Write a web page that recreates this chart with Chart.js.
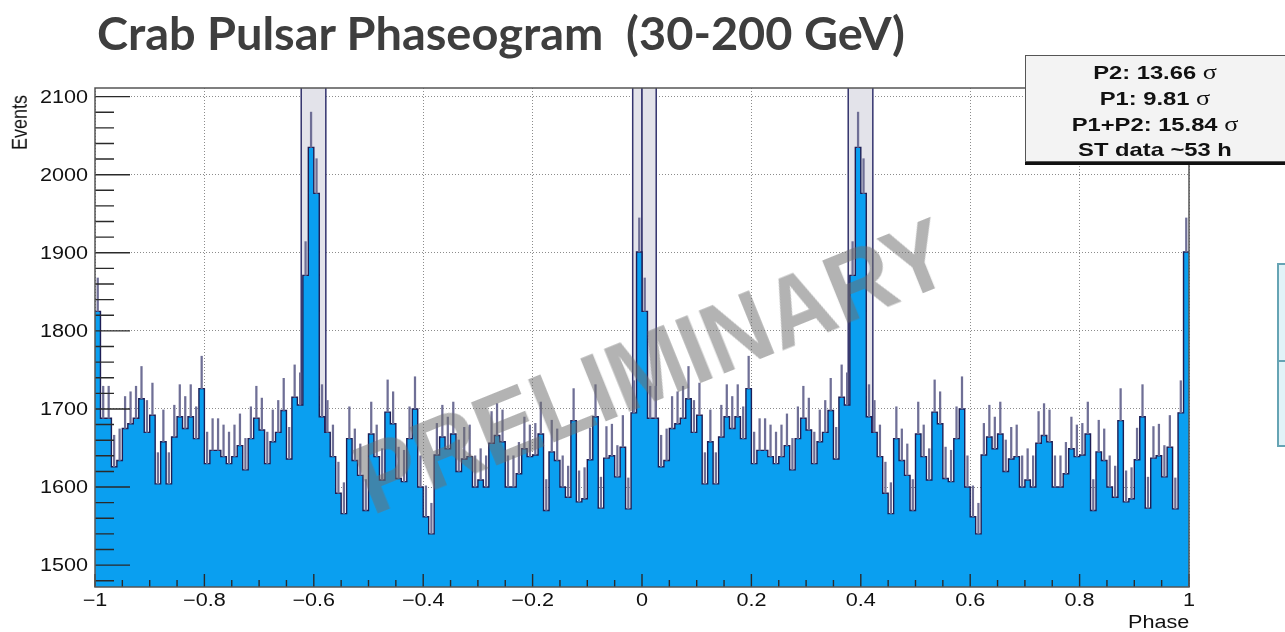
<!DOCTYPE html>
<html>
<head>
<meta charset="utf-8">
<title>Crab Pulsar Phaseogram</title>
<script src="https://cdn.jsdelivr.net/npm/chart.js@4.4.1/dist/chart.umd.min.js"></script>
<style>
  html, body { margin: 0; padding: 0; background: #fff; }
  #wrap { position: relative; width: 1285px; height: 632px; overflow: hidden; background: #fff; }
  #plot { position: absolute; left: 0; top: 0; }
  .title {
    position: absolute; left: 97px; top: 11px;
    font-family: Lato, "Open Sans", sans-serif; font-weight: 700; font-size: 45px;
    color: #3e3e3e; white-space: pre; transform-origin: 0 0; line-height: 1;
  }
  .watermark {
    position: absolute; left: 652px; top: 366px;
    font-family: "Liberation Sans", Arial, sans-serif; font-weight: 700; font-size: 98px;
    color: rgba(110, 110, 110, 0.52); white-space: pre; line-height: 1;
    transform: translate(-50%, -50%) rotate(-22deg) scaleX(0.94); pointer-events: none;
  }
  .stats {
    position: absolute; left: 1025px; top: 55px; width: 300px; height: 105px;
    background: #f3f3f3; border: 1.5px solid #555; box-shadow: 0 3px 0 #111;
  }
  .stats-line {
    position: absolute; left: 1025px; width: 260px; text-align: center;
    font-family: "Liberation Sans", Arial, sans-serif; font-weight: 700; font-size: 19px;
    color: #111; line-height: 1; transform: scaleX(1.25); transform-origin: 50% 50%;
  }
  .stats-line .sym { font-family: "Liberation Serif", serif; font-weight: 400; font-size: 21px; }
  .side-box {
    position: absolute; left: 1277px; top: 263px; width: 30px; height: 180px;
    background: #e1f3f8; border: 2px solid #66a4b4;
  }
  .side-box .divider { position: absolute; left: 0; right: 0; top: 95px; border-top: 2px solid #66a4b4; }
  .axis-title {
    position: absolute; font-family: "Liberation Sans", Arial, sans-serif; font-size: 18px;
    color: #111; line-height: 1; white-space: pre;
  }
</style>
</head>
<body>
<div id="wrap">
  <canvas id="plot" width="1285" height="632"></canvas>
  <div class="title" id="title">Crab Pulsar Phaseogram  (30-200 GeV)</div>
  <div class="watermark">PRELIMINARY</div>
  <div class="stats"></div>
  <div id="statsText"></div>
  <div class="side-box"><div class="divider"></div></div>
  <div class="axis-title" id="ytitle">Events</div>
  <div class="axis-title" id="xtitle">Phase</div>
</div>
<script>
// Events per phase bin (bin width 0.01), one pulsar rotation, bins [0.00,0.01) ... [0.99,1.00)
const phaseBins = [
  1825, 1688, 1688, 1626, 1634, 1675, 1681, 1688, 1713, 1670,
  1692, 1604, 1658, 1604, 1664, 1690, 1675, 1690, 1662, 1726,
  1630, 1647, 1647, 1639, 1630, 1639, 1653, 1622, 1662, 1688,
  1673, 1630, 1658, 1670, 1698, 1636, 1715, 1705, 1871, 2035,
  1976, 1690, 1670, 1639, 1592, 1566, 1662, 1634, 1615, 1570,
  1668, 1639, 1609, 1696, 1681, 1611, 1607, 1662, 1700, 1600,
  1562, 1540, 1641, 1664, 1649, 1668, 1620, 1636, 1639, 1600,
  1609, 1600, 1656, 1666, 1658, 1600, 1600, 1617, 1649, 1639,
  1641, 1668, 1570, 1645, 1634, 1600, 1587, 1685, 1581, 1585,
  1635, 1690, 1573, 1637, 1640, 1613, 1651, 1572, 1695, 1901
];
const binWidth = 0.01;
// the phaseogram is shown over two rotations, phase -1 .. 1
const cycleStarts = [-1, 0];

const xTicks = [-1, -0.8, -0.6, -0.4, -0.2, 0, 0.2, 0.4, 0.6, 0.8, 1];
const xTickLabels = ['\u22121', '\u22120.8', '\u22120.6', '\u22120.4', '\u22120.2', '0', '0.2', '0.4', '0.6', '0.8', '1'];
const yTicks = [1500, 1600, 1700, 1800, 1900, 2000, 2100];
const yTickLabels = ['1500', '1600', '1700', '1800', '1900', '2000', '2100'];

// pulse (ON) phase regions: P2 and P1
const onRegions = [[-0.623, -0.578], [-0.017, 0], [0, 0.026], [0.377, 0.422]];

const statsLines = [
  ['P2: 13.66 ', '\u03c3'],
  ['P1: 9.81 ', '\u03c3'],
  ['P1+P2: 15.84 ', '\u03c3'],
  ['ST data ~53 h', '']
];

// ---- histogram geometry ----
const counts = cycleStarts.flatMap(() => phaseBins);
const xMin = cycleStarts[0];
const xMax = cycleStarts[cycleStarts.length - 1] + 1;
const edges = counts.map((_, i) => +(xMin + i * binWidth).toFixed(4));
const histPoints = counts.map((c, i) => ({ x: edges[i], y: c }));
histPoints.push({ x: xMax, y: counts[counts.length - 1] });
const errPoints = counts.map((c, i) => ({ x: +(edges[i] + binWidth / 2).toFixed(4), y: [c, c + Math.sqrt(c)] }));

const STRETCH = 1.2;
const labelFont = '18px "Liberation Sans", Arial, sans-serif';

const regionPlugin = {
  id: 'onRegions',
  beforeDatasetsDraw(chart) {
    const { ctx, chartArea: a, scales: { x } } = chart;
    ctx.save();
    onRegions.forEach(([lo, hi]) => {
      const x0 = x.getPixelForValue(lo), x1 = x.getPixelForValue(hi);
      ctx.fillStyle = '#e3e3ea';
      ctx.fillRect(x0, a.top, x1 - x0, a.bottom - a.top);
      ctx.strokeStyle = '#34346e';
      ctx.lineWidth = 1.5;
      ctx.beginPath();
      ctx.moveTo(x0, a.top); ctx.lineTo(x0, a.bottom);
      ctx.moveTo(x1, a.top); ctx.lineTo(x1, a.bottom);
      ctx.stroke();
    });
    ctx.restore();
  }
};

const framePlugin = {
  id: 'frame',
  afterDatasetsDraw(chart) {
    const { ctx, chartArea: a, scales: { x, y } } = chart;
    ctx.save();
    ctx.strokeStyle = '#2a2a2a';
    ctx.lineWidth = 1.4;
    ctx.beginPath();
    // x axis ticks, major every 0.2, minor every 0.05
    for (let k = 0; k <= 40; k++) {
      const v = xMin + k * 0.05;
      const px = x.getPixelForValue(v);
      const len = (k % 4 === 0) ? 13 : 7;
      ctx.moveTo(px, a.bottom); ctx.lineTo(px, a.bottom - len);
    }
    // y axis ticks, major every 100, minor every 20
    for (let v = 1480; v <= 2100; v += 20) {
      const py = y.getPixelForValue(v);
      const len = (v % 100 === 0) ? 35 : 19;
      ctx.moveTo(a.left, py); ctx.lineTo(a.left + len, py);
    }
    ctx.stroke();
    ctx.strokeStyle = '#555';
    ctx.lineWidth = 1.5;
    ctx.strokeRect(a.left, a.top, a.right - a.left, a.bottom - a.top);
    ctx.restore();
  },
  afterDraw(chart) {
    const { ctx, chartArea: a, scales: { x, y } } = chart;
    ctx.save();
    ctx.fillStyle = '#111';
    ctx.font = labelFont;
    ctx.textBaseline = 'middle';
    ctx.textAlign = 'center';
    xTicks.forEach((v, i) => {
      ctx.save();
      ctx.translate(x.getPixelForValue(v), a.bottom + 14);
      ctx.scale(STRETCH, 1);
      ctx.fillText(xTickLabels[i], 0, 0);
      ctx.restore();
    });
    ctx.textAlign = 'right';
    yTicks.forEach((v, i) => {
      ctx.save();
      ctx.translate(a.left - 7, y.getPixelForValue(v) + 1);
      ctx.scale(STRETCH, 1);
      ctx.fillText(yTickLabels[i], 0, 0);
      ctx.restore();
    });
    ctx.restore();
  }
};

const chart = new Chart(document.getElementById('plot'), {
  type: 'line',
  data: {
    datasets: [
      {
        type: 'bar', label: 'stat. error', data: errPoints,
        backgroundColor: '#6f6f96', barThickness: 1.6, grouped: false, order: 0
      },
      {
        type: 'line', label: 'Events', data: histPoints,
        stepped: 'before', fill: 'start',
        backgroundColor: '#0a9ff0', borderColor: '#1e1e55', borderWidth: 1.4,
        pointRadius: 0, order: 1
      }
    ]
  },
  options: {
    responsive: false, animation: false, devicePixelRatio: 1,
    layout: { padding: { top: 88, right: 96, left: 0, bottom: 0 } },
    plugins: { legend: { display: false }, tooltip: { enabled: false }, title: { display: false } },
    scales: {
      x: {
        type: 'linear', min: xMin, max: xMax, offset: false,
        afterBuildTicks: s => { s.ticks = xTicks.map(v => ({ value: v })); },
        afterFit: s => { s.height = 45; },
        ticks: { display: false },
        grid: { color: '#8c8c8c', lineWidth: 1, drawTicks: false, offset: false },
        border: { display: false, dash: [1, 2] }
      },
      y: {
        type: 'linear', min: 1472, max: 2111,
        afterBuildTicks: s => { s.ticks = yTicks.map(v => ({ value: v })); },
        afterFit: s => { s.width = 95; },
        ticks: { display: false },
        grid: { color: '#8c8c8c', lineWidth: 1, drawTicks: false },
        border: { display: false, dash: [1, 2] }
      }
    }
  },
  plugins: [regionPlugin, framePlugin]
});

// title width follows the plot frame header
const titleEl = document.getElementById('title');
const tw = titleEl.getBoundingClientRect().width;
titleEl.style.transform = 'scaleX(' + (808 / tw) + ')';

// statistics box text
const statsText = document.getElementById('statsText');
const lineCenters = [72, 98, 124, 150];
statsLines.forEach(([txt, sym], i) => {
  const d = document.createElement('div');
  d.className = 'stats-line';
  d.style.top = (lineCenters[i] - 10) + 'px';
  d.appendChild(document.createTextNode(txt));
  if (sym) {
    const s = document.createElement('span');
    s.className = 'sym';
    s.textContent = sym;
    d.appendChild(s);
  }
  statsText.appendChild(d);
});

// axis titles
const xt = document.getElementById('xtitle');
xt.style.left = (chart.chartArea.right - xt.getBoundingClientRect().width * STRETCH) + 'px';
xt.style.top = '613px';
xt.style.transformOrigin = '0 0';
xt.style.transform = 'scaleX(' + STRETCH + ')';
const yt = document.getElementById('ytitle');
yt.style.transformOrigin = '0 0';
yt.style.left = '9px';
yt.style.top = '150px';
yt.style.transform = 'rotate(-90deg) scaleY(' + STRETCH + ')';
</script>
</body>
</html>
